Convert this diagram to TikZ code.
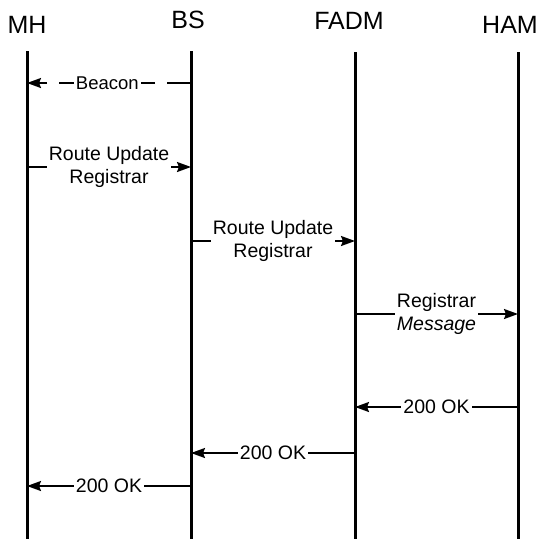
\documentclass[tikz,border=0pt]{standalone}
\usepackage{fontspec}
\setmainfont{Liberation Sans}
\usetikzlibrary{arrows.meta}
\begin{document}
\begin{tikzpicture}[x=1pt,y=-1pt,
  entity/.style={font=\fontsize{25}{28}\selectfont, inner sep=0pt},
  lifeline/.style={line width=3pt},
  msg/.style={line width=2pt, -{Stealth[length=14pt,width=10pt,inset=2pt]}},
  msglabel/.style={fill=white, inner sep=2pt, align=center, font=\fontsize{19.5}{22.5}\selectfont}]
  \useasboundingbox (0,0) rectangle (541,539);
  % entities
  \node[entity] (mh)   at (27,24.5) {MH};
  \node[entity] (bs)   at (188,20)  {BS};
  \node[entity] (fadm) at (349,20.5) {FADM};
  \node[entity] (ham)  at (510,25)  {HAM};
  % lifelines
  \coordinate (mh top)   at (27,51);  \coordinate (mh bot)   at (27,539);
  \coordinate (bs top)   at (191,51); \coordinate (bs bot)   at (191,539);
  \coordinate (fadm top) at (355,52); \coordinate (fadm bot) at (355,539);
  \coordinate (ham top)  at (518,52); \coordinate (ham bot)  at (518,539);
  \draw[lifeline] (mh top) -- (mh bot);
  \draw[lifeline] (bs top) -- (bs bot);
  \draw[lifeline] (fadm top) -- (fadm bot);
  \draw[lifeline] (ham top) -- (ham bot);
  % beacon
  \coordinate (bcn s) at (191,83); \coordinate (bcn e) at (27,83);
  \draw[msg, dash pattern=on 24pt off 12pt] (bcn s) -- node[msglabel, pos=0.51, font=\fontsize{18.5}{21}\selectfont] {Beacon} (bcn e);
  % registration
  \coordinate (ru1 s) at (27,167);  \coordinate (ru1 e) at (191,167);
  \draw[msg] (ru1 s) -- node[msglabel] {Route Update\\Registrar} (ru1 e);
  \coordinate (ru2 s) at (191,241); \coordinate (ru2 e) at (355,241);
  \draw[msg] (ru2 s) -- node[msglabel] {Route Update\\Registrar} (ru2 e);
  \coordinate (rm s) at (355,314);  \coordinate (rm e) at (518,314);
  \draw[msg] (rm s) -- node[msglabel] {Registrar\\\itshape Message} (rm e);
  % replies
  \coordinate (ok1 s) at (518,407); \coordinate (ok1 e) at (355,407);
  \draw[msg] (ok1 s) -- node[msglabel] {200 OK} (ok1 e);
  \coordinate (ok2 s) at (355,453); \coordinate (ok2 e) at (191,453);
  \draw[msg] (ok2 s) -- node[msglabel] {200 OK} (ok2 e);
  \coordinate (ok3 s) at (191,486); \coordinate (ok3 e) at (27,486);
  \draw[msg] (ok3 s) -- node[msglabel] {200 OK} (ok3 e);
\end{tikzpicture}
\end{document}
